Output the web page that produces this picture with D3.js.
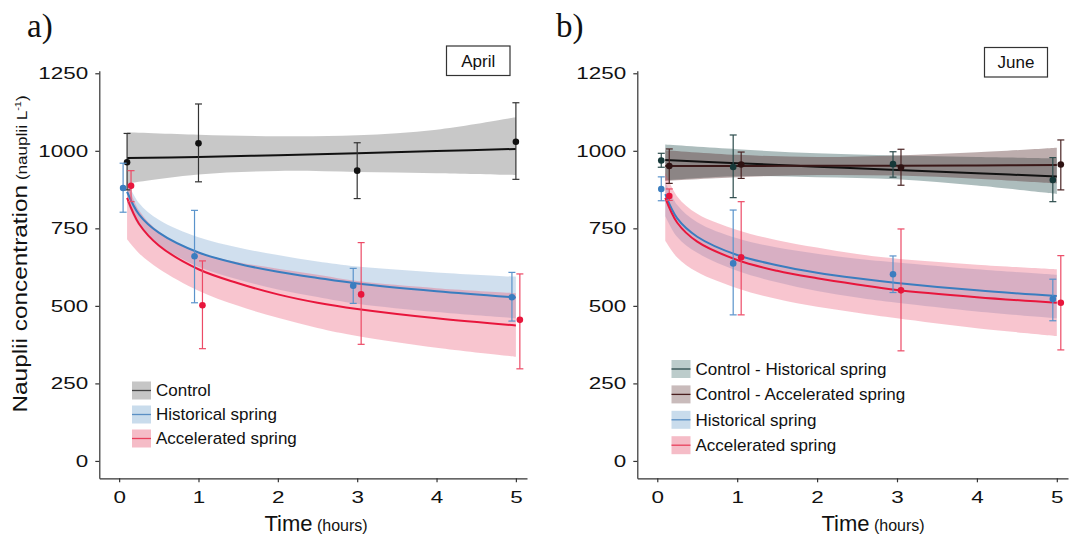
<!DOCTYPE html>
<html lang="en">
<head>
<meta charset="UTF-8">
<title>Nauplii concentration</title>
<script src="https://cdn.jsdelivr.net/npm/d3@7"></script>
<style>
  body { margin: 0; background: #fff; }
  text { font-family: "Liberation Sans", Arial, sans-serif; fill: #111; }
  .axis path, .axis line { stroke: #333; stroke-width: 1.2; }
</style>
</head>
<body>
<svg id="chart" width="1072" height="537"></svg>
<script>
// ---- data ----
const yTicks = [0, 250, 500, 750, 1000, 1250]
const xTicks = [0, 1, 2, 3, 4, 5]

// fitted curves (sampled along time, hours)
const fitTimes = [0.1, 0.25, 0.5, 1, 1.5, 2, 2.5, 3, 4, 5]
const ctrlTimes = [0.1, 1, 2, 3, 4, 5]

// April
const aprCtrlLine = [977, 980, 986, 992, 999, 1006]
const aprCtrlHi = [1060, 1052, 1047, 1050, 1068, 1108]
const aprCtrlLo = [895, 924, 935, 932, 928, 922]
const aprHistLine = [868, 795, 736, 672, 636, 610, 590, 572, 547, 527]
const aprHistHi = [903, 832, 778, 721, 688, 664, 643, 627, 608, 594]
const aprHistLo = [835, 758, 697, 626, 585, 553, 529, 507, 480, 460]
const aprAccLine = [848, 765, 695, 618, 573, 537, 510, 490, 460, 437]
const aprAccHi = [903, 808, 740, 672, 641, 620, 600, 580, 557, 541]
const aprAccLo = [715, 670, 620, 549, 500, 462, 429, 403, 365, 336]

// April observations (mean and error bar ends)
const aprCtrlT = [0.1, 1, 3, 5]
const aprCtrlMean = [963, 1024, 936, 1029]
const aprCtrlLow = [874, 900, 846, 908]
const aprCtrlHigh = [1056, 1151, 1026, 1155]
const aprHistT = [0.05, 0.95, 2.95, 4.95]
const aprHistMean = [880, 660, 565, 528]
const aprHistLow = [802, 510, 508, 451]
const aprHistHigh = [960, 808, 621, 608]
const aprAccT = [0.15, 1.05, 3.05, 5.05]
const aprAccMean = [887, 502, 537, 455]
const aprAccLow = [836, 362, 376, 297]
const aprAccHigh = [936, 645, 704, 603]

// June
const junCHLine = [970, 960, 949, 938, 928, 917]
const junCHHi = [1020, 1005, 992, 985, 980, 976]
const junCHLo = [905, 918, 915, 908, 888, 861]
const junCALine = [951, 951, 952, 952, 953, 954]
const junCAHi = [1002, 987, 980, 985, 995, 1010]
const junCALo = [903, 915, 922, 920, 910, 895]
const junHistLine = [860, 782, 723, 664, 631, 607, 589, 574, 550, 532]
const junHistHi = [900, 825, 770, 718, 688, 668, 652, 640, 618, 600]
const junHistLo = [790, 722, 671, 613, 576, 548, 527, 510, 482, 460]
const junAccLine = [848, 768, 707, 648, 613, 589, 569, 551, 528, 510]
const junAccHi = [930, 853, 797, 745, 712, 688, 667, 652, 633, 618]
const junAccLo = [710, 656, 609, 557, 522, 497, 478, 460, 428, 403]

const junCHT = [0.05, 0.95, 2.95, 4.95]
const junCHMean = [969, 948, 957, 906]
const junCHLow = [947, 849, 915, 836]
const junCHHigh = [992, 1051, 997, 978]
const junCAT = [0.15, 1.05, 3.05, 5.05]
const junCAMean = [951, 956, 946, 956]
const junCALow = [895, 911, 889, 874]
const junCAHigh = [1006, 996, 1005, 1035]
const junHistT = [0.05, 0.95, 2.95, 4.95]
const junHistMean = [877, 637, 602, 522]
const junHistLow = [839, 471, 543, 452]
const junHistHigh = [916, 809, 661, 586]
const junAccT = [0.15, 1.05, 3.05, 5.05]
const junAccMean = [854, 657, 550, 510]
const junAccLow = [840, 471, 355, 358]
const junAccHigh = [877, 836, 748, 662]

// ---- drawing ----
const svg = d3.select('#chart')

const zip = (t, ...cols) => t.map((d, i) => [d, ...cols.map(c => c[i])])
const curve = d3.curveCatmullRom.alpha(0.5)

function panel(opt) {
  const x = d3.scaleLinear().domain([-0.25, 5.14]).range([opt.left, opt.right])
  const y = d3.scaleLinear().domain([-56, 1258]).range([478.3, 70.8])
  const g = svg.append('g')

  const area = d3.area().curve(curve)
    .x(d => x(d[0])).y0(d => y(d[1])).y1(d => y(d[2]))
  const line = d3.line().curve(curve)
    .x(d => x(d[0])).y(d => y(d[1]))

  // confidence bands
  opt.bands.forEach(b => {
    g.append('path').datum(zip(b.t, b.lo, b.hi))
      .attr('d', area).attr('fill', b.fill).attr('stroke', 'none')
  })
  // fitted lines
  opt.bands.forEach(b => {
    g.append('path').datum(zip(b.t, b.line))
      .attr('d', line).attr('fill', 'none')
      .attr('stroke', b.stroke).attr('stroke-width', 2)
  })
  // observations with error bars
  opt.points.forEach(p => {
    const data = zip(p.t, p.mean, p.low, p.high)
    const eb = g.append('g').attr('stroke', p.bar).attr('stroke-width', 1.2)
    eb.selectAll('.v').data(data).enter().append('line')
      .attr('x1', d => x(d[0])).attr('x2', d => x(d[0]))
      .attr('y1', d => y(d[2])).attr('y2', d => y(d[3]))
    eb.selectAll('.lo').data(data).enter().append('line')
      .attr('x1', d => x(d[0]) - 3.5).attr('x2', d => x(d[0]) + 3.5)
      .attr('y1', d => y(d[2])).attr('y2', d => y(d[2]))
    eb.selectAll('.hi').data(data).enter().append('line')
      .attr('x1', d => x(d[0]) - 3.5).attr('x2', d => x(d[0]) + 3.5)
      .attr('y1', d => y(d[3])).attr('y2', d => y(d[3]))
    g.selectAll(null).data(data).enter().append('circle')
      .attr('cx', d => x(d[0])).attr('cy', d => y(d[1]))
      .attr('r', 3.3).attr('fill', p.color)
  })

  // axes (tick labels are drawn wide, as in the original figure)
  const ya = g.append('g').attr('class', 'axis')
    .attr('transform', `translate(${opt.left},0)`)
    .call(d3.axisLeft(y).tickValues(yTicks).tickSize(4).tickSizeOuter(0).tickFormat(d3.format('d')))
  ya.selectAll('text').attr('x', -8.4).attr('transform', 'scale(1.32,1)')
    .style('font-size', '17px')
  const xa = g.append('g').attr('class', 'axis')
    .attr('transform', 'translate(0,478.3)')
    .call(d3.axisBottom(x).tickValues(xTicks).tickSize(4).tickSizeOuter(0).tickPadding(9).tickFormat(d3.format('d')))
  xa.selectAll('text').attr('transform', 'scale(1.32,1)')
    .style('font-size', '17px')

  // x title
  const xt = g.append('text').attr('x', opt.timeX).attr('y', 531)
    .attr('text-anchor', 'middle')
  xt.append('tspan').text('Time').style('font-size', '22px')
  xt.append('tspan').text(' (hours)').style('font-size', '16px')

  // panel letter
  g.append('text').attr('x', opt.letterX).attr('y', 37).text(opt.letter)
    .style('font-family', '"Liberation Serif", "Times New Roman", serif')
    .style('font-size', '33px')

  // month box
  g.append('rect').attr('x', opt.box[0]).attr('y', opt.box[1])
    .attr('width', opt.box[2]).attr('height', opt.box[3])
    .attr('fill', '#fff').attr('stroke', '#333').attr('stroke-width', 1.2)
  g.append('text').attr('x', opt.box[0] + opt.box[2] / 2).attr('y', opt.box[1] + opt.box[3] / 2)
    .attr('dy', '0.35em').attr('text-anchor', 'middle').style('font-size', '17px').text(opt.month)

  // legend
  const lg = g.append('g')
  opt.legend.forEach((l, i) => {
    const cy = opt.legY + i * opt.legStep
    lg.append('rect').attr('x', opt.legX).attr('y', cy - 9).attr('width', 19).attr('height', 18)
      .attr('fill', l.swatch)
    lg.append('line').attr('x1', opt.legX).attr('x2', opt.legX + 19)
      .attr('y1', cy).attr('y2', cy).attr('stroke', l.stroke).attr('stroke-width', 1.3)
    lg.append('text').attr('x', opt.legX + 24).attr('y', cy).attr('dy', '0.35em')
      .style('font-size', '17px').text(l.label)
  })
}

const grayFill = 'rgba(128,128,128,0.43)'
const blueFill = 'rgba(100,150,200,0.3)'
const redFill = 'rgba(235,80,110,0.33)'
const blue = '#3a7dbf'
const red = '#e8163c'

panel({
  left: 99.3, right: 527, timeX: 316, letter: 'a)', letterX: 27,
  month: 'April', box: [446.5, 46, 63.5, 29.5],
  bands: [
    { t: ctrlTimes, line: aprCtrlLine, lo: aprCtrlLo, hi: aprCtrlHi, fill: grayFill, stroke: '#111' },
    { t: fitTimes, line: aprHistLine, lo: aprHistLo, hi: aprHistHi, fill: blueFill, stroke: blue },
    { t: fitTimes, line: aprAccLine, lo: aprAccLo, hi: aprAccHi, fill: redFill, stroke: red }
  ],
  points: [
    { t: aprCtrlT, mean: aprCtrlMean, low: aprCtrlLow, high: aprCtrlHigh, color: '#111', bar: '#333' },
    { t: aprHistT, mean: aprHistMean, low: aprHistLow, high: aprHistHigh, color: blue, bar: '#5a93cb' },
    { t: aprAccT, mean: aprAccMean, low: aprAccLow, high: aprAccHigh, color: red, bar: '#ec4a66' }
  ],
  legX: 132, legY: 390.5, legStep: 24,
  legend: [
    { label: 'Control', swatch: '#c6c6c6', stroke: '#444' },
    { label: 'Historical spring', swatch: '#c9dcec', stroke: '#5a8fc4' },
    { label: 'Accelerated spring', swatch: '#f5bcc7', stroke: '#e8405c' }
  ]
})

panel({
  left: 637.3, right: 1068, timeX: 873, letter: 'b)', letterX: 556,
  month: 'June', box: [984.5, 47.5, 63, 29.5],
  bands: [
    { t: ctrlTimes, line: junCHLine, lo: junCHLo, hi: junCHHi, fill: 'rgba(50,90,90,0.4)', stroke: '#111' },
    { t: ctrlTimes, line: junCALine, lo: junCALo, hi: junCAHi, fill: 'rgba(90,50,50,0.4)', stroke: '#3a1818' },
    { t: fitTimes, line: junHistLine, lo: junHistLo, hi: junHistHi, fill: blueFill, stroke: blue },
    { t: fitTimes, line: junAccLine, lo: junAccLo, hi: junAccHi, fill: redFill, stroke: red }
  ],
  points: [
    { t: junCHT, mean: junCHMean, low: junCHLow, high: junCHHigh, color: '#163838', bar: '#2c4c4c' },
    { t: junCAT, mean: junCAMean, low: junCALow, high: junCAHigh, color: '#2e1212', bar: '#4a2424' },
    { t: junHistT, mean: junHistMean, low: junHistLow, high: junHistHigh, color: blue, bar: '#5a93cb' },
    { t: junAccT, mean: junAccMean, low: junAccLow, high: junAccHigh, color: red, bar: '#ec4a66' }
  ],
  legX: 671.5, legY: 369, legStep: 25.4,
  legend: [
    { label: 'Control - Historical spring', swatch: '#bccccb', stroke: '#2b4a4a' },
    { label: 'Control - Accelerated spring', swatch: '#c9bbbb', stroke: '#4a1e1e' },
    { label: 'Historical spring', swatch: '#c9dcec', stroke: '#5a8fc4' },
    { label: 'Accelerated spring', swatch: '#f5bcc7', stroke: '#e8405c' }
  ]
})

// y axis title
const yt = svg.append('text')
  .attr('transform', 'translate(27,254) rotate(-90) scale(1.22,1)')
  .attr('text-anchor', 'middle')
yt.append('tspan').text('Nauplii concentration').style('font-size', '20px')
yt.append('tspan').text(' (nauplii L').style('font-size', '14px')
yt.append('tspan').text('-1').style('font-size', '9px').attr('dy', '-6')
yt.append('tspan').text(')').style('font-size', '14px').attr('dy', '6')
</script>
</body>
</html>
